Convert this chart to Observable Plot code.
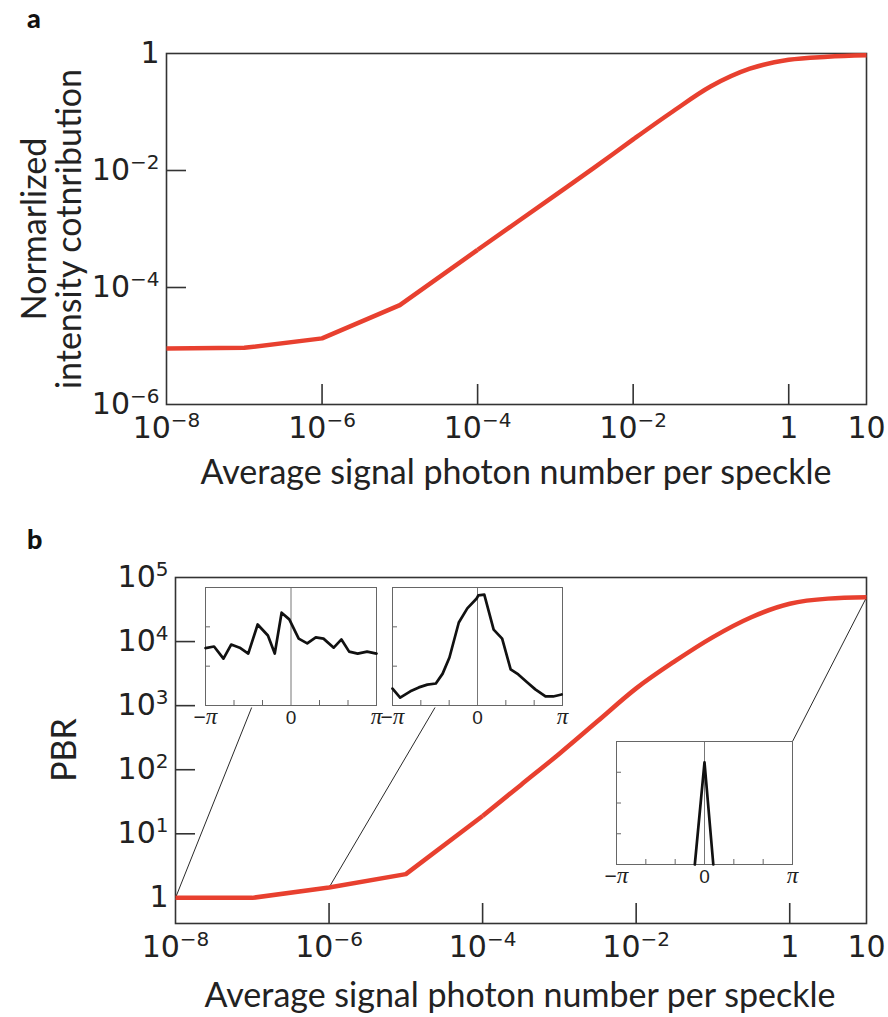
<!DOCTYPE html>
<html>
<head>
<meta charset="utf-8">
<script src="https://cdn.jsdelivr.net/npm/d3@7"></script>
<script src="https://cdn.jsdelivr.net/npm/@observablehq/plot@0.6"></script>
<style>
  body { margin: 0; background: #fff; }
  #wrap { position: relative; width: 888px; height: 1017px; overflow: hidden; background: #fff; }
  .abs { position: absolute; }
  .letter { font-family: "Lato"; font-weight: 900; font-size: 27px; line-height: 27px; color: #111; }
  .title { font-family: "Lato"; font-size: 34px; line-height: 34px; color: #222; white-space: nowrap; transform: translateX(-50%); }
  .ylab { font-family: "Lato"; font-size: 34px; line-height: 35px; color: #222; white-space: nowrap; text-align: center;
          transform: translate(-50%, -50%) rotate(-90deg); }
</style>
</head>
<body>
<div id="wrap"></div>
<script>
// ---------------- data ----------------
const photons   = [1e-8, 1e-7, 1e-6, 1e-5, 1e-4, 3.16e-4, 1e-3, 3.16e-3, 1e-2, 3.16e-2, 0.1, 0.316, 1, 3.16, 10];
const intensity = [9.1e-6, 9.3e-6, 1.35e-5, 5.0e-5, 4.4e-4, 1.29e-3, 3.8e-3, 1.12e-2, 3.4e-2, 0.10, 0.275, 0.55, 0.78, 0.88, 0.93];
const pbr       = [1.0, 1.0, 1.45, 2.35, 19, 58, 178, 575, 1860, 4900, 11750, 24000, 38900, 46800, 49000];
// index where the measured curve becomes smooth (kinked segments before it)
const smoothFrom = 4;

// insets: phase in units of pi, amplitude in arbitrary units
const inset1Phase = [-1, -0.9, -0.79, -0.7, -0.6, -0.5, -0.39, -0.27, -0.19, -0.11, -0.02, 0.09, 0.19, 0.29, 0.38, 0.5, 0.59, 0.68, 0.78, 0.89, 1.0];
const inset1Amp   = [1.46, 1.50, 1.19, 1.55, 1.47, 1.32, 2.06, 1.78, 1.32, 2.36, 2.19, 1.70, 1.58, 1.73, 1.70, 1.47, 1.68, 1.37, 1.32, 1.37, 1.32];
const inset2Phase = [-1.0, -0.91, -0.79, -0.69, -0.59, -0.49, -0.41, -0.33, -0.22, -0.12, -0.01, 0.01, 0.08, 0.19, 0.29, 0.39, 0.48, 0.59, 0.68, 0.80, 0.89, 0.99];
const inset2Amp   = [0.43, 0.20, 0.36, 0.46, 0.53, 0.56, 0.81, 1.22, 2.11, 2.47, 2.72, 2.80, 2.82, 1.93, 1.70, 0.92, 0.79, 0.58, 0.41, 0.23, 0.23, 0.28];
const inset3Phase = [-0.11, 0, 0.10];
const inset3Amp   = [0, 3.32, 0];

// ticks
const xLabelTicks  = [1e-8, 1e-6, 1e-4, 1e-2, 1, 10];
const xInnerTicks  = [1e-6, 1e-4, 1e-2, 1];
const yLabelTicksA = [1e-6, 1e-4, 1e-2, 1];
const yInnerTicksA = [1e-4, 1e-2];
const yLabelTicksB = [1, 10, 100, 1e3, 1e4, 1e5];
const yInnerTicksB = [1, 10, 100, 1e3, 1e4];
const phaseLabelTicks = [-1, 0, 1];
const phaseInnerTicks = [-2/3, -1/3, 1/3, 2/3];

const xTitle = "Average signal photon number per speckle";

// ---------------- helpers ----------------
const RED = "#e8402f";
const AX = "#333";
const wrap = document.getElementById("wrap");
const NS = "http://www.w3.org/2000/svg";

function powX(d) {
  const e = Math.round(Math.log10(d));
  if (e === 0) return "1";
  if (e === 1) return "10";
  return "10^" + (e < 0 ? "\u2212" + (-e) : e);
}
function powY(d) {
  const e = Math.round(Math.log10(d));
  if (e === 0) return "1";
  return "10^" + (e < 0 ? "\u2212" + (-e) : e);
}
function superscriptify(svg) {
  svg.querySelectorAll("text").forEach(t => {
    const s = t.textContent;
    if (!s.includes("^")) return;
    const [base, exp] = s.split("^");
    while (t.firstChild) t.removeChild(t.firstChild);
    const b = document.createElementNS(NS, "tspan"); b.textContent = base; t.appendChild(b);
    const e = document.createElementNS(NS, "tspan"); e.textContent = exp;
    e.setAttribute("font-size", "20px"); e.setAttribute("dy", "-11"); t.appendChild(e);
  });
}
function piify(svg) {
  svg.querySelectorAll("text").forEach(t => {
    const s = t.textContent;
    if (!s.includes("\u03c0")) return;
    while (t.firstChild) t.removeChild(t.firstChild);
    for (const ch of s) {
      const sp = document.createElementNS(NS, "tspan"); sp.textContent = ch;
      if (ch === "\u03c0") { sp.setAttribute("font-family", "Liberation Serif"); sp.setAttribute("font-style", "italic"); sp.setAttribute("font-size", "23px"); }
      else sp.setAttribute("font-size", "21px");
      t.appendChild(sp);
    }
  });
}
function place(el, left, top) {
  const d = document.createElement("div");
  d.className = "abs"; d.style.left = left + "px"; d.style.top = top + "px";
  d.appendChild(el); wrap.appendChild(d); return d;
}
function html(cls, text, left, top) {
  const d = document.createElement("div");
  d.className = "abs " + cls; d.style.left = left + "px"; d.style.top = top + "px";
  d.innerHTML = text; wrap.appendChild(d); return d;
}
// red measured curve: straight segments at low signal, smooth afterwards
function curveMarks(xs, ys) {
  const data = xs.map((x, i) => ({x, y: ys[i]}));
  return [
    Plot.line(data.slice(0, smoothFrom + 1), {x: "x", y: "y", stroke: RED, strokeWidth: 4.5, strokeLinecap: "butt"}),
    Plot.line(data.slice(smoothFrom), {x: "x", y: "y", stroke: RED, strokeWidth: 4.5, curve: "monotone-x", strokeLinecap: "butt"})
  ];
}

// ---------------- panel a ----------------
const A = {w: 888, h: 520, mt: 53, mb: 116, ml: 166, mr: 22};
const aPW = A.w - A.ml - A.mr, aPH = A.h - A.mt - A.mb;
const plotA = Plot.plot({
  width: A.w, height: A.h, marginTop: A.mt, marginBottom: A.mb, marginLeft: A.ml, marginRight: A.mr,
  style: {fontFamily: "DejaVu Sans", fontSize: "30px", color: "#222", background: "white", overflow: "visible"},
  x: {type: "log", domain: [1e-8, 10]},
  y: {type: "log", domain: [1e-6, 1]},
  marks: [
    Plot.frame({stroke: AX, strokeWidth: 1.6}),
    Plot.tickX(xInnerTicks, {x: d => d, insetTop: aPH - 20, stroke: AX, strokeWidth: 1.6}),
    Plot.tickY(yInnerTicksA, {y: d => d, insetRight: aPW - 20, stroke: AX, strokeWidth: 1.6}),
    Plot.axisX({ticks: xLabelTicks, tickSize: 0, tickPadding: 12, tickFormat: powX, label: null}),
    Plot.axisY({ticks: yLabelTicksA, tickSize: 0, tickPadding: 7, tickFormat: powY, label: null}),
    ...curveMarks(photons, intensity)
  ]
});
superscriptify(plotA);
place(plotA, 0, 0);

// ---------------- panel b ----------------
const B = {top: 520, w: 888, h: 497, mt: 57, mb: 94, ml: 175, mr: 22};
const bPW = B.w - B.ml - B.mr, bPH = B.h - B.mt - B.mb;
const bXDomain = [1e-8, 10], bYDomain = [Math.pow(10, -0.4), 1e5];
const bX = Plot.scale({x: {type: "log", domain: bXDomain, range: [B.ml, B.w - B.mr]}});
const bY = Plot.scale({y: {type: "log", domain: bYDomain, range: [B.h - B.mb, B.mt]}});

const insetBoxes = [
  {left: 205, top: 587, w: 171, h: 118},
  {left: 392, top: 587, w: 170, h: 118},
  {left: 616, top: 741, w: 176, h: 123}
];
const connectors = [
  {i: 0, box: 0, fx: 0.27, fy: 1, pad: 2},
  {i: 2, box: 1, fx: 0.25, fy: 1, pad: 2},
  {i: photons.length - 1, box: 2, fx: 1, fy: 0, pad: 0}
];
const links = connectors.map(c => {
  const b = insetBoxes[c.box];
  const px = b.left + c.fx * b.w, py = b.top + c.fy * b.h + c.pad - B.top;
  return {x1: photons[c.i], y1: pbr[c.i], x2: bX.invert(px), y2: bY.invert(py)};
});

const plotB = Plot.plot({
  width: B.w, height: B.h, marginTop: B.mt, marginBottom: B.mb, marginLeft: B.ml, marginRight: B.mr,
  style: {fontFamily: "DejaVu Sans", fontSize: "30px", color: "#222", background: "white", overflow: "visible"},
  x: {type: "log", domain: bXDomain},
  y: {type: "log", domain: bYDomain},
  marks: [
    Plot.frame({stroke: AX, strokeWidth: 1.6}),
    Plot.tickX(xInnerTicks, {x: d => d, insetTop: bPH - 20, stroke: AX, strokeWidth: 1.6}),
    Plot.tickY(yInnerTicksB, {y: d => d, insetRight: bPW - 20, stroke: AX, strokeWidth: 1.6}),
    Plot.axisX({ticks: xLabelTicks, tickSize: 0, tickPadding: 12, tickFormat: powX, label: null}),
    Plot.axisY({ticks: yLabelTicksB, tickSize: 0, tickPadding: 7, tickFormat: powY, label: null}),
    Plot.link(links, {x1: "x1", y1: "y1", x2: "x2", y2: "y2", stroke: "#111", strokeWidth: 0.9}),
    ...curveMarks(photons, pbr)
  ]
});
superscriptify(plotB);
place(plotB, 0, B.top);

// ---------------- insets ----------------
function makeInset(phase, amp, yMax, yTicks, box) {
  const mL = 20, mR = 20, mT = 5, mB = 32;
  const data = phase.map((p, i) => ({p, a: amp[i]}));
  const p = Plot.plot({
    width: box.w + mL + mR, height: box.h + mT + mB,
    marginLeft: mL, marginRight: mR, marginTop: mT, marginBottom: mB,
    x: {domain: [-1, 1]}, y: {domain: [0, yMax], axis: null},
    style: {fontFamily: "Liberation Sans", fontSize: "19px", color: "#222", background: "transparent", overflow: "visible"},
    marks: [
      Plot.ruleX([0], {stroke: "#777", strokeWidth: 1}),
      Plot.tickX(phaseInnerTicks, {x: d => d, insetTop: box.h - 5, stroke: "#666", strokeWidth: 1}),
      Plot.tickY(yTicks, {y: d => d, insetRight: box.w - 5, stroke: "#666", strokeWidth: 1}),
      Plot.frame({stroke: "#666", strokeWidth: 1}),
      Plot.line(data, {x: "p", y: "a", stroke: "#111", strokeWidth: 2.7}),
      Plot.axisX({ticks: phaseLabelTicks, tickSize: 0, tickPadding: 5, label: null,
        tickFormat: d => d < 0 ? "\u2212\u03c0" : d > 0 ? "\u03c0" : "0"})
    ]
  });
  piify(p);
  const d = place(p, box.left - mL, box.top - mT);
  d.style.width = (box.w + mL + mR) + "px";
}
makeInset(inset1Phase, inset1Amp, 3, [1, 2], insetBoxes[0]);
makeInset(inset2Phase, inset2Amp, 3, [1, 2], insetBoxes[1]);
makeInset(inset3Phase, inset3Amp, 4, [1, 2, 3], insetBoxes[2]);

// ---------------- text ----------------
html("letter", "a", 27, 4);
html("letter", "b", 27, 525);
html("title", xTitle, 516, 454);
html("title", xTitle, 520, 977);
html("ylab", "Normarlized<br>intensity cotnribution", 50, 229);
html("ylab", "PBR", 62, 750);
</script>
</body>
</html>
